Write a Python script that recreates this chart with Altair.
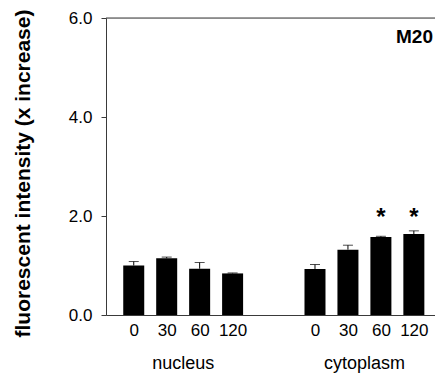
import altair as alt
import pandas as pd

# ---- data ----
compartments = ["nucleus"] * 4 + ["cytoplasm"] * 4
times = ["0", "30", "60", "120", "0", "30", "60", "120"]
positions = [0, 1, 2, 3, 5.5, 6.5, 7.5, 8.5]
means = [1.00, 1.145, 0.935, 0.84, 0.93, 1.32, 1.576, 1.636]
upper = [1.08, 1.17, 1.06, 0.85, 1.02, 1.41, 1.59, 1.70]
group_names = ["nucleus", "cytoplasm"]
group_centers = [1.5, 7.0]
star_pos = [7.5, 8.5]
star_y = [1.82, 1.82]
y_ticks = [0, 2, 4, 6]
panel_label = "M20"

df = pd.DataFrame({"comp": compartments, "time": times, "pos": positions,
                   "mean": means, "upper": upper})
groups = pd.DataFrame({"name": group_names, "pos": group_centers})
stars = pd.DataFrame({"pos": star_pos, "y": star_y, "t": ["*"] * len(star_pos)})

W, H = 329, 297
FONT = "Liberation Sans"
LINE = "#3a3a3a"

label_expr = ""
for p, t in zip(positions, times):
    label_expr += f"datum.value == {p} ? '{t}' : "
label_expr += "''"

xscale = alt.Scale(domain=[-0.69, 8.99], nice=False, zero=False)
yscale = alt.Scale(domain=[0, 6], nice=False)

base = alt.Chart(df)

bars = base.mark_bar(size=21, color="black").encode(
    x=alt.X("pos:Q", scale=xscale,
            axis=alt.Axis(values=positions, labelExpr=label_expr, ticks=False,
                          grid=False, title=None, domainColor=LINE,
                          labelFontSize=17, labelColor="black", labelPadding=7,
                          labelFont=FONT, labelFlush=False, labelOverlap=False)),
    y=alt.Y("mean:Q", scale=yscale,
            axis=alt.Axis(values=y_ticks, format=".1f", tickSize=5,
                          tickColor=LINE, domainColor=LINE, grid=False,
                          labelFontSize=17, labelColor="black", labelPadding=9,
                          labelFont=FONT,
                          title="fluorescent intensity (x increase)",
                          titleFont=FONT, titleFontSize=21, titleFontWeight="bold",
                          titleColor="black", titleAngle=270, titleX=-83, titleY=155,
                          titleAlign="center", titleBaseline="middle")),
)

err = base.mark_rule(color="black", strokeWidth=1).encode(
    x="pos:Q", y="mean:Q", y2="upper:Q")
caps = base.mark_tick(orient="horizontal", size=10, thickness=1, color="black").encode(
    x="pos:Q", y="upper:Q")

top = alt.Chart(pd.DataFrame({"y": [6]})).mark_rule(color=LINE, strokeWidth=1).encode(
    y="y:Q")

star_text = alt.Chart(stars).mark_text(fontSize=24, fontWeight="bold", font=FONT,
                                       baseline="alphabetic", color="black").encode(
    x="pos:Q", y="y:Q", text="t:N")

group_text = alt.Chart(groups).mark_text(fontSize=18, font=FONT, baseline="alphabetic",
                                         color="black").encode(
    x="pos:Q", y=alt.value(H + 54), text="name:N")

panel = alt.Chart(pd.DataFrame({"t": [panel_label]})).mark_text(
    fontSize=19, fontWeight="bold", font=FONT, align="right", baseline="middle",
    color="black").encode(x=alt.value(W - 2), y=alt.value(19), text="t:N")

chart = alt.layer(bars, err, caps, top, star_text, group_text, panel).properties(
    width=W, height=H,
    autosize=alt.AutoSizeParams(type="none"),
    padding={"left": 98, "top": 10, "right": 0, "bottom": 61},
).configure_view(stroke=None).configure(font=FONT)

chart.save("out.html", embed_options={"renderer": "svg", "actions": False})
